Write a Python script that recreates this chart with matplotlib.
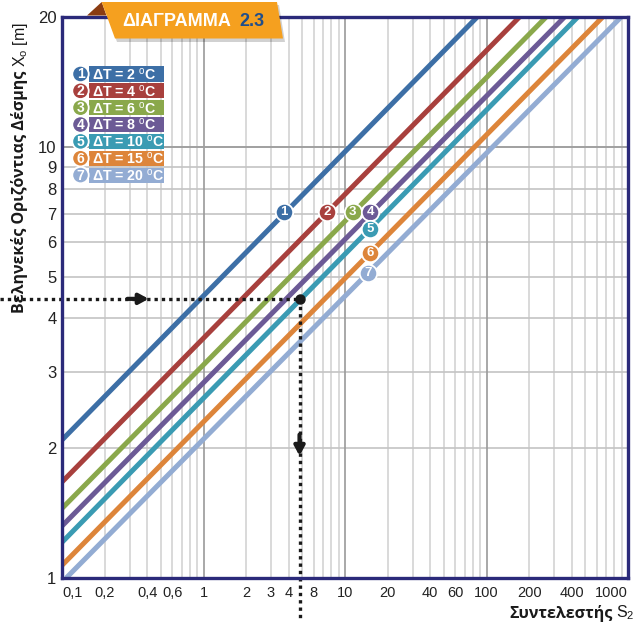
import matplotlib
matplotlib.use("Agg")
import matplotlib.pyplot as plt
from matplotlib.transforms import Affine2D
from matplotlib.patches import Polygon, Rectangle, Circle
import numpy as np

plt.rcParams['font.family'] = ['Liberation Sans', 'DejaVu Sans']
plt.rcParams['mathtext.fontset'] = 'custom'
plt.rcParams['mathtext.rm'] = 'Liberation Sans'
plt.rcParams['mathtext.bf'] = 'Liberation Sans:bold'

# ---------------- data ----------------
delta_T = [2, 4, 6, 8, 10, 15, 20]
line_ids = ["1", "2", "3", "4", "5", "6", "7"]
S_start = [0.1, 0.1, 0.1, 0.1, 0.1, 0.1, 0.107]
X_start = [2.09, 1.67, 1.45, 1.32, 1.21, 1.07, 1.0]
S_end = [86, 171, 264, 356, 442, 663, 895]
X_end = [20, 20, 20, 20, 20, 20, 20]

# numbered markers on the lines
mark_S = [3.7, 7.5, 11.3, 15.1, 15.1, 15.0, 14.6]
mark_X = [7.07, 7.07, 7.07, 7.07, 6.45, 5.68, 5.1]

# example reading
ex_S = 4.77
ex_X = 4.44

xtick_pos = [0.1, 0.2, 0.4, 0.6, 1, 2, 3, 4, 6, 10, 20, 40, 60, 100, 200, 400, 1000]
xtick_lab = ["0,1", "0,2", "0,4", "0,6", "1", "2", "3", "4", "8", "10", "20", "40", "60",
             "100", "200", "400", "1000"]
ytick_pos = [1, 2, 3, 4, 5, 6, 7, 8, 9, 10, 20]
ytick_lab = ["1", "2", "3", "4", "5", "6", "7", "8", "9", "10", "20"]

colors = ["#3D6FA6", "#A8403D", "#8AA84B", "#6C5A96", "#3A9BB3", "#DD853A", "#93ACD3"]

W, H = 641, 622
fig = plt.figure(figsize=(W / 100, H / 100), dpi=100)
ax = fig.add_axes([62 / W, (H - 578) / H, (628 - 62) / W, (578 - 17) / H])
ax.set_xscale('log')
ax.set_yscale('log')
ax.set_xlim(0.1, 1000)
ax.set_ylim(1, 20)

# grid
for dec in [0.1, 1, 10, 100]:
    for k in range(2, 10):
        ax.axvline(dec * k, color='#CFCFCF', lw=1.1, zorder=0.5)
for dec in [1, 10, 100]:
    ax.axvline(dec, color='#9A9A9A', lw=1.2, zorder=0.6)
for k in range(2, 10):
    ax.axhline(k, color='#C4C4C4', lw=1.2, zorder=0.5)
ax.axhline(10, color='#A0A0A0', lw=1.4, zorder=0.6)

# lines
for i in range(len(delta_T)):
    ax.plot([S_start[i], S_end[i]], [X_start[i], X_end[i]], color=colors[i], lw=3.6,
            solid_capstyle='butt', zorder=3)

# numbered circles
for i in range(len(delta_T)):
    ax.plot(mark_S[i], mark_X[i], 'o', ms=12.5, mfc=colors[i], mec='white', mew=1.3, zorder=5)
    ax.text(mark_S[i], mark_X[i], line_ids[i], color='white', fontsize=9.5, fontweight='bold',
            ha='center', va='center', zorder=6)

# dotted example
x_left = 10 ** ((0 - 204) / 141.5)
y_bot = 10 ** ((578 - 622) / 431)
ax.plot([x_left, ex_S], [ex_X, ex_X], ls=(0, (1, 1.2)), color='#1a1a1a', lw=2.4,
        clip_on=False, zorder=7)
ax.plot([ex_S, ex_S], [ex_X, y_bot], ls=(0, (1, 1.2)), color='#1a1a1a', lw=2.4,
        clip_on=False, zorder=7)
ax.plot(ex_S, ex_X, 'o', ms=6.5, color='#1a1a1a', zorder=8)
ax.annotate('', xy=(0.41, ex_X), xytext=(0.29, ex_X),
            arrowprops=dict(arrowstyle='-|>,head_length=0.55,head_width=0.3', lw=3,
                            color='#1a1a1a', shrinkA=0, shrinkB=0), zorder=8)
ax.annotate('', xy=(ex_S, 1.92), xytext=(ex_S, 2.15),
            arrowprops=dict(arrowstyle='-|>,head_length=0.55,head_width=0.3', lw=3,
                            color='#1a1a1a', shrinkA=0, shrinkB=0), zorder=8)

# axes styling
for sp in ax.spines.values():
    sp.set_color('#2B2A7A')
    sp.set_linewidth(2.4)
    sp.set_zorder(9)
ax.set_xticks(xtick_pos)
ax.set_xticklabels(xtick_lab, fontsize=10.5, color='#222222')
ax.xaxis.set_minor_locator(matplotlib.ticker.NullLocator())
ax.set_yticks(ytick_pos)
ax.set_yticklabels(ytick_lab, fontsize=12, color='#222222')
ax.yaxis.set_minor_locator(matplotlib.ticker.NullLocator())
ax.tick_params(axis='both', length=0)
ax.tick_params(axis='x', pad=6)
ax.tick_params(axis='y', pad=4)
xl = ax.get_xticklabels()
xl[0].set_ha('left')
xl[-1].set_ha('right')

# pixel transform (origin top-left)
T = Affine2D().scale(1 / W, -1 / H).translate(0, 1) + fig.transFigure
renderer = fig.canvas.get_renderer()

# axis labels
t_y1 = fig.text(20, 313, "Βεληνεκές Οριζόντιας Δέσμης", transform=T, rotation=90,
                ha='center', va='bottom', fontsize=11.5, fontweight='bold',
                family=['Open Sans', 'DejaVu Sans'], color='#1a1a1a')
bb = t_y1.get_window_extent(renderer)
top_px = H - bb.y1
fig.text(20, top_px - 4, r"X$_\mathrm{o}$ [m]", transform=T, rotation=90, ha='center',
         va='bottom', fontsize=11.5, family=['Liberation Sans', 'DejaVu Sans'],
         color='#1a1a1a')
fig.text(613, 613, "Συντελεστής", transform=T, ha='right', va='center', fontsize=11.5,
         fontweight='bold', family=['Open Sans', 'DejaVu Sans'], color='#1a1a1a')
fig.text(616, 613, r"S$_\mathrm{2}$", transform=T, ha='left', va='center', fontsize=11.5,
         color='#1a1a1a')

# legend
row0, drow = 74, 16.85
for i in range(len(delta_T)):
    yc = row0 + i * drow
    fig.add_artist(Rectangle((89, yc - 7.6), 75, 15.2, transform=T, color=colors[i],
                             zorder=10, lw=0))
    fig.add_artist(Circle((80.5, yc), 8.2, transform=T, facecolor=colors[i],
                          edgecolor='white', lw=1.3, zorder=11))
    fig.text(80.5, yc + 0.5, line_ids[i], transform=T, ha='center', va='center', fontsize=10,
             fontweight='bold', color='white', zorder=12)
    fig.text(92, yc + 0.5, "ΔT = %d $^{\\mathrm{o}}$C" % delta_T[i], transform=T, ha='left',
             va='center', fontsize=10.2, fontweight='bold', color='white', zorder=12)

# title banner
fig.add_artist(Polygon([(104, 5), (279, 5), (285, 42), (117, 42)], closed=True, transform=T,
                       facecolor='#000000', alpha=0.18, lw=0, zorder=12))
fig.add_artist(Polygon([(101.7, 2), (277, 2), (283, 38.5), (115, 38.5)], closed=True,
                       transform=T, facecolor='#F5A01F', lw=0, zorder=13))
fig.add_artist(Polygon([(101.7, 2), (87, 15.5), (106.5, 15.5)], closed=True, transform=T,
                       facecolor='#8A3C12', lw=0, zorder=12.5))
t_title = fig.text(122, 21, "ΔΙΑΓΡΑΜΜΑ", transform=T, ha='left', va='center', fontsize=13,
                   fontweight='bold', color='white', zorder=14)
tb = t_title.get_window_extent(renderer)
fig.text(tb.x1 + 9, 21, "2.3", transform=T, ha='left', va='center', fontsize=13,
         fontweight='bold', color='#1F4E8C', zorder=14)

fig.savefig("out.png", dpi=100)
